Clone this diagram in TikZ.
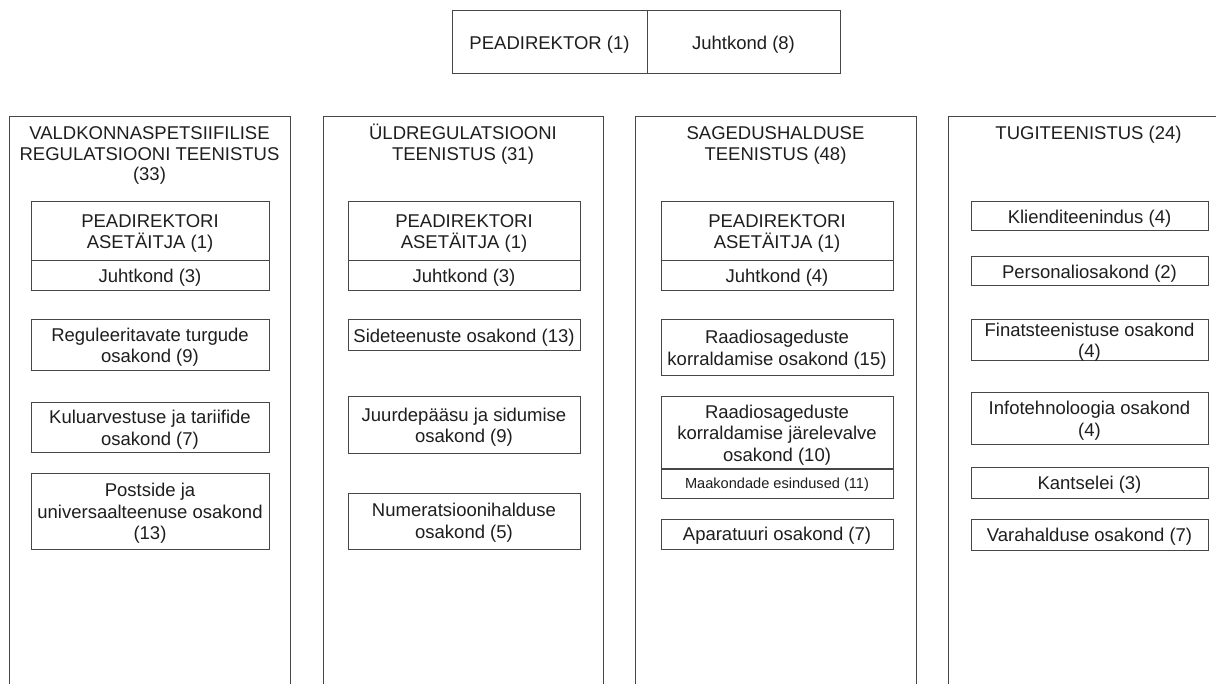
\documentclass[tikz,border=0pt]{standalone}
\usepackage{fontspec}
\setmainfont{Liberation Sans}
\definecolor{linec}{RGB}{70,70,70}
\definecolor{txtc}{RGB}{30,30,30}
\tikzset{
  bx/.style={draw=linec, line width=1pt, anchor=north west, inner sep=0pt, outer sep=0pt,
    align=center, text=txtc, text depth=0pt, font=\fontsize{18.5}{21.5}\selectfont},
  col/.style={draw=linec, line width=1pt, anchor=north west, inner sep=0pt, outer sep=0pt,
    minimum width=281pt, minimum height=640pt},
  ttl/.style={anchor=base, inner sep=0pt, align=center, text=txtc, font=\fontsize{18.5}{20.5}\selectfont},
  small/.style={font=\fontsize{14.6}{17}\selectfont},
}
\begin{document}
\begin{tikzpicture}[x=1pt, y=-1pt]
\useasboundingbox (0,0) rectangle (1216,684);
\clip (0,0) rectangle (1216,684);
\fill[white] (0,0) rectangle (1216,684);

% top
\node[bx, minimum width=195pt, minimum height=63pt] (pd) at (452,11) {PEADIREKTOR (1)};
\node[bx, minimum width=193pt, minimum height=63pt] (jk) at (pd.north east) {Juhtkond (8)};

% columns
\node[col] (c1) at (9,117) {};
\node[col, minimum width=280pt] (c2) at (323,117) {};
\node[col] (c3) at (635,117) {};
\node[col] (c4) at (948,117) {};

% titles (base anchor = baseline of last line)
\node[ttl] (t1) at (149.5,181) {VALDKONNASPETSIIFILISE\\REGULATSIOONI TEENISTUS\\(33)};
\node[ttl] (t2) at (463,160.5) {ÜLDREGULATSIOONI\\TEENISTUS (31)};
\node[ttl] (t3) at (775.5,160.5) {SAGEDUSHALDUSE\\TEENISTUS (48)};
\node[ttl] (t4) at (1088.5,140) {TUGITEENISTUS (24)};

% column 1
\node[bx, minimum width=238pt, minimum height=59pt] (a1) at (31,202) {PEADIREKTORI\\ASETÄITJA (1)};
\node[bx, minimum width=238pt, minimum height=30pt] (b1) at (a1.south west) {Juhtkond (3)};
\node[bx, minimum width=238pt, minimum height=51pt] (r1) at (31,320) {Reguleeritavate turgude\\osakond (9)};
\node[bx, minimum width=238pt, minimum height=50pt] (k1) at (31,403) {Kuluarvestuse ja tariifide\\osakond (7)};
\node[bx, minimum width=238pt, minimum height=75pt] (p1) at (31,474) {Postside ja\\universaalteenuse osakond\\(13)};

% column 2
\node[bx, minimum width=232pt, minimum height=59pt] (a2) at (348,202) {PEADIREKTORI\\ASETÄITJA (1)};
\node[bx, minimum width=232pt, minimum height=30pt] (b2) at (a2.south west) {Juhtkond (3)};
\node[bx, minimum width=232pt, minimum height=31pt] (s2) at (348,320) {Sideteenuste osakond (13)};
\node[bx, minimum width=232pt, minimum height=57pt] (j2) at (348,397) {Juurdepääsu ja sidumise\\osakond (9)};
\node[bx, minimum width=232pt, minimum height=56pt] (n2) at (348,493) {Numeratsioonihalduse\\osakond (5)};

% column 3
\node[bx, minimum width=232pt, minimum height=59pt] (a3) at (661,202) {PEADIREKTORI\\ASETÄITJA (1)};
\node[bx, minimum width=232pt, minimum height=30pt] (b3) at (a3.south west) {Juhtkond (4)};
\node[bx, minimum width=232pt, minimum height=56pt] (r3) at (661,320) {Raadiosageduste\\korraldamise osakond (15)};
\node[bx, minimum width=232pt, minimum height=72pt] (v3) at (661,397) {Raadiosageduste\\korraldamise järelevalve\\osakond (10)};
\node[bx, small, minimum width=232pt, minimum height=29pt] (m3) at (v3.south west) {Maakondade esindused (11)};
\draw[linec, line width=2.2pt] (v3.south west) -- (v3.south east);
\node[bx, minimum width=232pt, minimum height=30pt] (ap3) at (661,519) {Aparatuuri osakond (7)};

% column 4
\node[bx, minimum width=237pt, minimum height=29pt] (kl) at (971,202) {Klienditeenindus (4)};
\node[bx, minimum width=237pt, minimum height=29pt] (pe) at (971,257) {Personaliosakond (2)};
\node[bx, minimum width=237pt, minimum height=41pt] (fi) at (971,320) {Finatsteenistuse osakond\\(4)};
\node[bx, minimum width=237pt, minimum height=52pt] (it) at (971,393) {Infotehnoloogia osakond\\(4)};
\node[bx, minimum width=237pt, minimum height=30pt] (ka) at (971,468) {Kantselei (3)};
\node[bx, minimum width=237pt, minimum height=31pt] (va) at (971,519) {Varahalduse osakond (7)};
\end{tikzpicture}
\end{document}
